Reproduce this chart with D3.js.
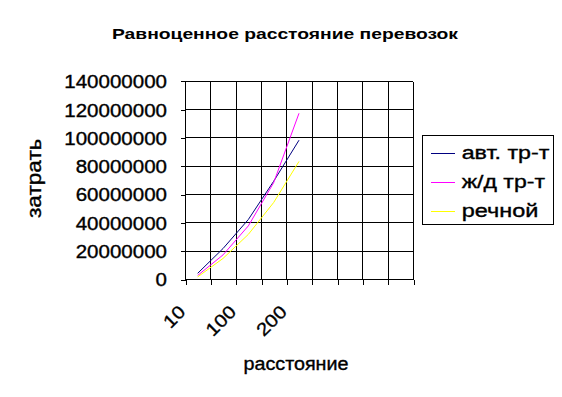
<!DOCTYPE html>
<html><head><meta charset="utf-8">
<script src="https://cdn.jsdelivr.net/npm/d3@7"></script>
<style>
html,body{margin:0;padding:0;background:#fff;}
text{font-family:"Liberation Sans",Arial,sans-serif;fill:#000;}
.thick{stroke:#000;stroke-width:0.35px;}
</style></head>
<body><svg id="c" width="562" height="397"></svg>
<script>
const title = "Равноценное расстояние перевозок";
const xTitle = "расстояние";
const yTitle = "затраты";
const categories = ["10","50","100","150","200","","","",""];
const shownLabels = ["10","100","200"];
const seriesNames = ["авт. тр-т","ж/д тр-т","речной"];
const seriesColors = ["#000080","#ff00ff","#ffff00"];
const autoValues  = [4000000, 21500000, 42000000, 69000000, 98000000];
const railValues  = [2500000, 17000000, 37500000, 68000000, 117000000];
const riverValues = [1500000, 14500000, 31500000, 54000000, 83000000];
const yTicks = [0,20000000,40000000,60000000,80000000,100000000,120000000,140000000];

const svg = d3.select("#c");
svg.append("rect").attr("width",562).attr("height",397).attr("fill","#fff");

const L=185, R=413, T=80.7, B=279;
const x = d3.scaleBand().domain(d3.range(categories.length)).range([L,R]).padding(0);
const xb = d3.scaleLinear().domain([0,categories.length]).range([L,R]);
const y = d3.scaleLinear().domain([0,140000000]).range([B,T]);

function stretch(sel, target){
  sel.each(function(){
    const l=this.getComputedTextLength();
    const t = typeof target==="function" ? target(l) : target;
    d3.select(this).attr("textLength",t).attr("lengthAdjust","spacingAndGlyphs");
  });
}

// grid
const g = svg.append("g").attr("shape-rendering","crispEdges");
g.selectAll(".hg").data(yTicks).join("line")
  .attr("x1",L).attr("x2",R).attr("y1",d=>Math.round(y(d))+0.5).attr("y2",d=>Math.round(y(d))+0.5)
  .attr("stroke","#000");
g.selectAll(".vg").data(d3.range(categories.length+1)).join("line")
  .attr("x1",d=>Math.round(xb(d))+0.5).attr("x2",d=>Math.round(xb(d))+0.5)
  .attr("y1",Math.round(T)+0.5).attr("y2",B+0.5).attr("stroke","#000");

// y axis
const ya = svg.append("g").attr("transform",`translate(${L+0.5},0.5)`).attr("shape-rendering","crispEdges")
  .call(d3.axisLeft(y).tickValues(yTicks).tickSize(5).tickSizeOuter(0).tickFormat(d3.format("d")));
ya.select(".domain").remove();
ya.selectAll(".tick line").attr("stroke","#000");
ya.selectAll(".tick text").attr("font-size",18).attr("font-family","Liberation Sans, Arial, sans-serif")
  .attr("x",-18.5).attr("dy","0.36em").attr("class","thick").attr("shape-rendering","auto");
stretch(ya.selectAll(".tick text"), l=>l*1.14);

// x axis tick marks
const xa = svg.append("g").attr("transform",`translate(0.5,${B+0.5})`).attr("shape-rendering","crispEdges")
  .call(d3.axisBottom(xb).tickValues(d3.range(categories.length+1)).tickSize(5).tickFormat(""));
xa.select(".domain").remove();
xa.selectAll(".tick line").attr("stroke","#000");

// x labels
const xl = svg.append("g");
xl.selectAll("text").data(d3.range(categories.length).filter(i=>shownLabels.includes(categories[i])))
  .join("text")
  .attr("transform",i=>`translate(${x(i)+x.bandwidth()/2-11},${B+34}) rotate(-45)`)
  .attr("text-anchor","end").attr("font-size",18).attr("class","thick")
  .text(i=>categories[i]);
stretch(xl.selectAll("text"), l=>l*1.14);

// lines
const allSeries=[autoValues,railValues,riverValues];
const line = d3.line().x((d,i)=>x(i)+x.bandwidth()/2).y(d=>y(d));
svg.append("g").selectAll("path").data(allSeries).join("path")
  .attr("d",line).attr("fill","none").attr("stroke",(d,i)=>seriesColors[i]).attr("stroke-width",1);

// title
const tt = svg.append("text").attr("x",285).attr("y",39).attr("text-anchor","middle")
  .attr("font-size",15).attr("font-weight","bold").text(title);
stretch(tt,346);

// x title
const xt = svg.append("text").attr("x",296).attr("y",370).attr("text-anchor","middle")
  .attr("font-size",18).attr("class","thick").text(xTitle);
stretch(xt,105);

// y title clipped
svg.append("clipPath").attr("id","yclip").append("rect").attr("x",0).attr("y",139.5).attr("width",80).attr("height",200);
const yt = svg.append("g").attr("clip-path","url(#yclip)").append("text")
  .attr("transform","translate(40.7,218) rotate(-90)").attr("font-size",20).attr("class","thick").text(yTitle);
stretch(yt,84);

// legend
const lg = svg.append("g");
lg.append("rect").attr("x",422.5).attr("y",135.5).attr("width",131).attr("height",89)
  .attr("fill","#fff").attr("stroke","#000").attr("shape-rendering","crispEdges");
const ly=[153.5,182,211], lw=[87.7,83.3,76.7];
seriesNames.forEach((n,i)=>{
  lg.append("line").attr("x1",431).attr("x2",455).attr("y1",ly[i]).attr("y2",ly[i])
    .attr("stroke",seriesColors[i]).attr("shape-rendering","crispEdges");
  const t=lg.append("text").attr("x",461.7).attr("y",ly[i]+5.5).attr("font-size",18).attr("class","thick").text(n);
  stretch(t,lw[i]);
});
</script></body></html>
